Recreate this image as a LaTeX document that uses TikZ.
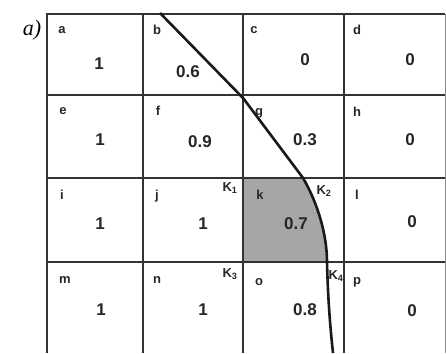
\documentclass[tikz,border=0pt]{standalone}
\usepackage{fontspec}
\setmainfont{Liberation Sans}
\newfontfamily\serifit{Liberation Serif}
\begin{document}
\begin{tikzpicture}[x=1pt,y=-1pt,
  gridline/.style={line width=2.2pt,draw=black!80},
  lbl/.style={font=\fontsize{13}{13}\selectfont\bfseries,inner sep=0pt,text=black!85},
  val/.style={font=\fontsize{17}{17}\selectfont\bfseries,inner sep=0pt,text=black!85},
  klbl/.style={font=\fontsize{13}{13}\selectfont\bfseries,inner sep=0pt,text=black!85},
  curveline/.style={line width=2.6pt,draw=black!90}]
\useasboundingbox (0,0) rectangle (446,353);
% shaded cell k
\fill[black!35] (243,178) -- (303,178) .. controls (316,200) and (327,232) .. (327,262) -- (243,262) -- cycle;
% grid
\draw[line width=1pt,draw=black!45] (445,14) -- (445,353);
\foreach \yy in {14,95,178,262} \draw[gridline] (47,\yy) -- (445,\yy);
\foreach \xx in {47,143,243,344} \draw[gridline] (\xx,13) -- (\xx,353);
% curve
\draw[curveline] (160,13) -- (243,98) -- (303,178) .. controls (316,200) and (327,232) .. (327,262) .. controls (328,300) and (330,325) .. (333,353);
% title
\node[font=\serifit\itshape\fontsize{22}{22}\selectfont,inner sep=0pt] (title) at (32,30) {a)};
% letters
\node[lbl] (la) at (62,30) {a};
\node[lbl] (lb) at (157,30) {b};
\node[lbl] (lc) at (254,30) {c};
\node[lbl] (ld) at (357,30) {d};
\node[lbl] (le) at (63,111) {e};
\node[lbl] (lf) at (158,111) {f};
\node[lbl] (lg) at (259,113) {g};
\node[lbl] (lh) at (357,112) {h};
\node[lbl] (li) at (62,195) {i};
\node[lbl] (lj) at (157,196) {j};
\node[lbl] (lk) at (260,195) {k};
\node[lbl] (ll) at (357,195) {l};
\node[lbl] (lm) at (65,280) {m};
\node[lbl] (ln) at (157,280) {n};
\node[lbl] (lo) at (259,282) {o};
\node[lbl] (lp) at (357,282) {p};
% values
\node[val] (va) at (99,64) {1};
\node[val] (vb) at (188,72) {0.6};
\node[val] (vc) at (305,60) {0};
\node[val] (vd) at (410,60) {0};
\node[val] (ve) at (100,140) {1};
\node[val] (vf) at (200,142) {0.9};
\node[val] (vg) at (305,140) {0.3};
\node[val] (vh) at (410,140) {0};
\node[val] (vi) at (100,224) {1};
\node[val] (vj) at (203,224) {1};
\node[val] (vk) at (296,224) {0.7};
\node[val] (vl) at (412,222) {0};
\node[val] (vm) at (101,310) {1};
\node[val] (vn) at (203,310) {1};
\node[val] (vo) at (305,310) {0.8};
\node[val] (vp) at (412,311) {0};
% K labels
\node[klbl] (k1) at (230,188) {K\textsubscript{1}};
\node[klbl] (k2) at (324,191) {K\textsubscript{2}};
\node[klbl] (k3) at (230,274) {K\textsubscript{3}};
\node[klbl] (k4) at (336,276) {K\textsubscript{4}};
\end{tikzpicture}
\end{document}
